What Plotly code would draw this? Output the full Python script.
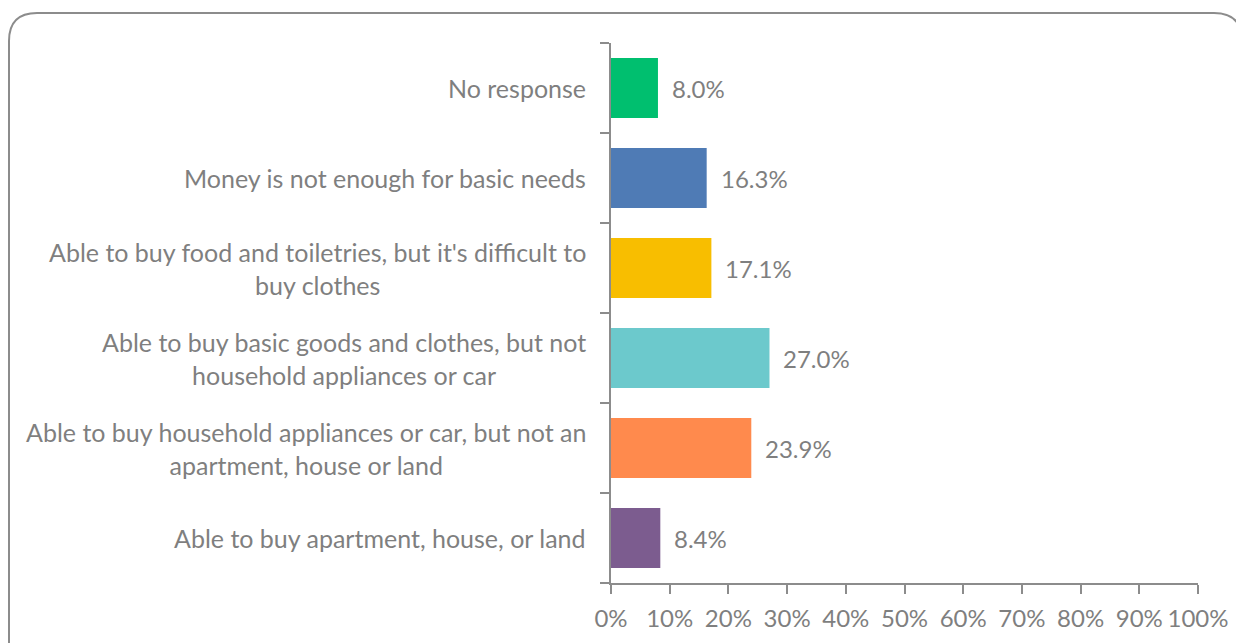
import plotly.graph_objects as go

categories = [
    "Able to buy apartment, house, or land",
    "Able to buy household appliances or car, but not an<br>apartment, house or land",
    "Able to buy basic goods and clothes, but not<br>household appliances or car",
    "Able to buy food and toiletries, but it's difficult to<br>buy clothes",
    "Money is not enough for basic needs",
    "No response",
]
values = [0.084, 0.239, 0.270, 0.171, 0.163, 0.080]
colors = ["#7C5C8F", "#FF8A4D", "#6CC9CC", "#F8BE00", "#4F7BB5", "#00BF6F"]
tick_vals = [0, 0.1, 0.2, 0.3, 0.4, 0.5, 0.6, 0.7, 0.8, 0.9, 1.0]
tick_text = ["0%", "10%", "20%", "30%", "40%", "50%", "60%", "70%", "80%", "90%", "100%"]

FONT = "Lato"
GRAY = "#7F7F7F"
W, H = 1236, 635
L, R, T, B = 603, 46, 35, 60
pw, ph = W - L - R, H - T - B

fig = go.Figure()
fig.add_trace(go.Bar(
    y=list(range(len(categories))), x=values, orientation="h",
    marker=dict(color=colors, line=dict(width=0)),
    width=0.667, hoverinfo="skip",
))

for i, (c, v) in enumerate(zip(categories, values)):
    fig.add_annotation(x=-23 / pw, xref="paper", y=i, yref="y", text=c,
                       xanchor="right", yanchor="middle", align="center",
                       showarrow=False, font=dict(family=FONT, size=25, color=GRAY))
    fig.add_annotation(x=v, xref="x", y=i, yref="y", text=f"{v*100:.1f}%",
                       xanchor="left", yanchor="middle", xshift=12,
                       showarrow=False, font=dict(family=FONT, size=24, color=GRAY))

def px(x):
    return (x - L) / pw

def py(y):
    return (H - B - y) / ph

x0, x1, y0, y1, r = 1, 1234, 5, 680, 28
path = (f"M {px(x0)},{py(y0 + r)} Q {px(x0)},{py(y0)} {px(x0 + r)},{py(y0)} "
        f"L {px(x1 - r)},{py(y0)} Q {px(x1)},{py(y0)} {px(x1)},{py(y0 + r)} "
        f"L {px(x1)},{py(y1 - r)} Q {px(x1)},{py(y1)} {px(x1 - r)},{py(y1)} "
        f"L {px(x0 + r)},{py(y1)} Q {px(x0)},{py(y1)} {px(x0)},{py(y1 - r)} Z")
fig.add_shape(type="path", path=path, xref="paper", yref="paper",
              line=dict(color="#8C8C8C", width=2), fillcolor="rgba(0,0,0,0)", layer="below")

fig.update_layout(
    width=W, height=H, margin=dict(l=L, r=R, t=T, b=B),
    paper_bgcolor="white", plot_bgcolor="white", showlegend=False,
    xaxis=dict(range=[0, 1], tickvals=tick_vals, ticktext=tick_text,
               showgrid=False, zeroline=False, showline=True, linecolor="#8C8C8C",
               linewidth=2, ticks="outside", ticklen=9, tickwidth=2, tickcolor="#8C8C8C",
               ticklabelstandoff=4,
               tickfont=dict(family=FONT, size=24, color=GRAY)),
    yaxis=dict(range=[-0.5, 5.5], tickvals=[-0.5, 0.5, 1.5, 2.5, 3.5, 4.5, 5.5],
               showticklabels=False, showgrid=False, zeroline=False, showline=True,
               linecolor="#8C8C8C", linewidth=2, ticks="outside", ticklen=9,
               tickwidth=2, tickcolor="#8C8C8C"),
)

fig.write_html("out.html")
